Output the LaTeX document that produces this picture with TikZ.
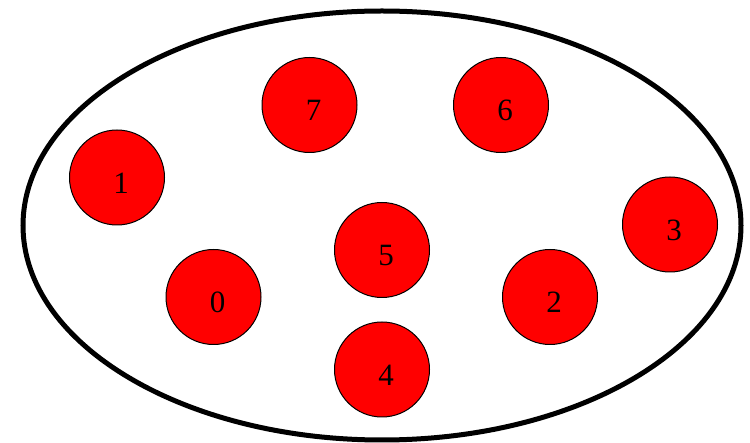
\documentclass[tikz,border=0pt]{standalone}
\usepackage{fontspec}
\setmainfont{Liberation Serif}
\usepackage{tikz}
\usetikzlibrary{positioning}

\begin{document}
\begin{tikzpicture}[
  x=1pt, y=-1pt,
  rim/.style={line width=5pt, color=black},
  ball/.style={circle, draw=black, line width=1pt, fill=red,
    minimum size=95pt, inner sep=0pt, outer sep=0pt},
  num/.style={label={[xshift=4pt, yshift=-5.5pt, inner sep=0pt,
    font=\fontsize{31}{31}\selectfont]center:#1}},
]
\useasboundingbox (0,0) rectangle (750,443);
% --- outer set
\draw[rim] (382,225.5) ellipse [x radius=359pt, y radius=214.5pt];

% --- members
\node[ball, num=7] (b7) at (309.5,105) {};
\node[ball, num=6] (b6) at (501,105) {};
\node[ball, num=1] (b1) at (117,177.5) {};
\node[ball, num=3] (b3) at (670,224.5) {};
\node[ball, num=5] (b5) at (382,250) {};
\node[ball, num=0] (b0) at (213.5,297) {};
\node[ball, num=2] (b2) at (550,297) {};
\node[ball, num=4] (b4) at (382,369.5) {};
\end{tikzpicture}
\end{document}
